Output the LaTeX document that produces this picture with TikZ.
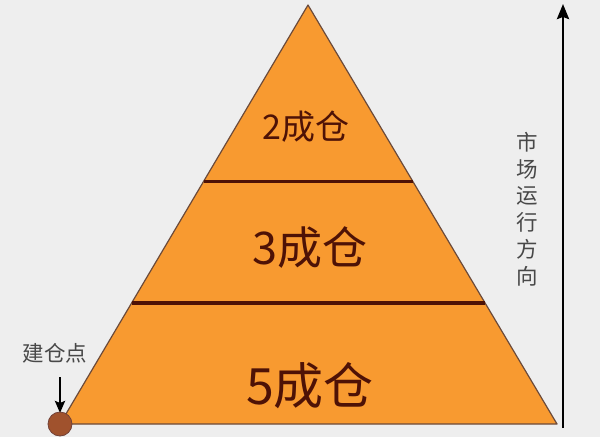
\documentclass[tikz,border=0pt]{standalone}
\usepackage{fontspec}
\newfontfamily\cjk{Noto Sans CJK SC}
\usetikzlibrary{calc}
\usepgflibrary{arrows.meta}
\definecolor{bggray}{HTML}{EEEEEE}
\definecolor{pyrorange}{HTML}{F89A30}
\definecolor{pyredge}{HTML}{6B4A3A}
\definecolor{darkbrown}{HTML}{4E1206}
\definecolor{pointbrown}{HTML}{A0522D}
\definecolor{labelgray}{HTML}{484848}

\begin{document}
\begin{tikzpicture}
	[x=1pt,y=-1pt,
	 divline/.style={draw=darkbrown,line width=3.5pt},
	 share/.style={text=darkbrown,font=\cjk},
	 sidelabel/.style={text=labelgray,font=\cjk\fontsize{21.5}{26.7}\selectfont,align=center,inner sep=0pt}]
	% background and margins
	\fill[bggray] (0,0) rectangle (600,437);
	% pyramid
	\coordinate (apex) at (308,5);
	\coordinate (bl) at (60,424);
	\coordinate (br) at (557,424);
	\filldraw[fill=pyrorange,draw=pyredge,line width=1.2pt,line join=round] (bl) -- (apex) -- (br) -- cycle;
	\coordinate (l1) at ($(apex)!0.421!(bl)$);
	\coordinate (r1) at ($(apex)!0.421!(br)$);
	\coordinate (l2) at ($(apex)!0.711!(bl)$);
	\coordinate (r2) at ($(apex)!0.711!(br)$);
	\draw[divline] (l1) -- (r1);
	\draw[divline] (l2) -- (r2);
	% shares
	\node[share,font=\cjk\fontsize{34}{34}\selectfont] (two) at (306,127) {2成仓};
	\node[share,font=\cjk\fontsize{45}{45}\selectfont] (three) at (310,248) {3成仓};
	\node[share,font=\cjk\fontsize{50}{50}\selectfont] (five) at (310,386) {5成仓};
	% entry point
	\node[sidelabel] (entry) at (55,353) {建仓点};
	\coordinate (entrytop) at (60,377);
	\draw[line width=2.6pt,-{Stealth[length=12pt,width=10pt,inset=2pt]}] (entrytop) -- ($(bl)+(0,-11)$);
	\filldraw[fill=pointbrown,draw=darkbrown!80,line width=0.8pt] (bl) circle (12);
	% market direction
	\coordinate (mbot) at (563,428);
	\coordinate (mtop) at (563,4);
	\draw[line width=2.6pt,-{Stealth[length=15pt,width=12pt,inset=2pt]}] (mbot) -- (mtop);
	\node[sidelabel] (direction) at (527,209) {市\\场\\运\\行\\方\\向};
\end{tikzpicture}
\end{document}
